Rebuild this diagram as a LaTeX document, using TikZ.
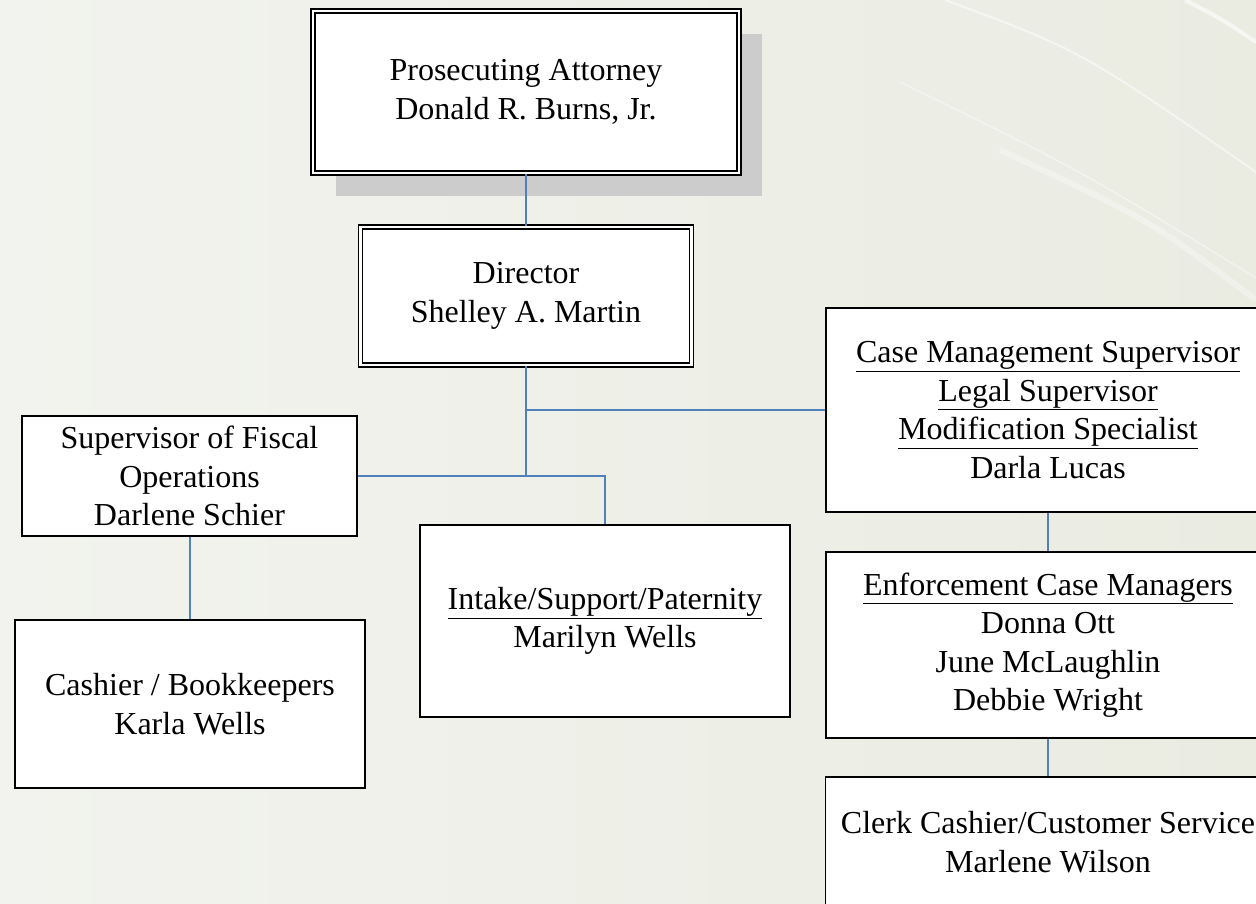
\documentclass[tikz,border=0pt]{standalone}
\usepackage{fontspec}
\setmainfont{Liberation Serif}
\usetikzlibrary{shadows}

\definecolor{linkblue}{HTML}{4F81BD}
\definecolor{bgleft}{HTML}{F2F3EE}
\definecolor{bgright}{HTML}{EAECE2}

\begin{document}
\begin{tikzpicture}[x=1pt, y=-1pt,
    box/.style={draw=black, line width=1.5pt, fill=white, inner sep=0pt,
      align=center, font=\fontsize{32}{38.5}\selectfont},
    headbox/.style={box, double=white, double distance=2.4pt, line width=1.5pt},
    link/.style={draw=linkblue, line width=2pt}]
    \useasboundingbox (0, 0) rectangle (1256, 903);
    \clip (0, 0) rectangle (1256, 903);
    \shade[left color=bgleft, right color=bgright] (0, 0) rectangle (1256, 903);
    \draw[white, opacity=0.5, line width=2pt] (945, 0) .. controls (1080, 50) .. (1256, 172);
    \draw[white, opacity=0.6, line width=4pt] (1185, 0) .. controls (1220, 18) .. (1256, 42);
    \draw[white, opacity=0.4, line width=1.5pt] (900, 82) .. controls (1080, 170) .. (1256, 278);
    \draw[white, opacity=0.3, line width=6pt] (1000, 150) .. controls (1150, 220) .. (1256, 300);

    \node[headbox, minimum width=426, minimum height=162,
      drop shadow={shadow xshift=23pt, shadow yshift=-23pt, fill=black!20, opacity=1}]
      (pa) at (526, 92) {Prosecuting Attorney\\Donald R. Burns, Jr.};
    \node[headbox, minimum width=331, minimum height=138] (dir) at (526, 296)
      {Director\\Shelley A. Martin};
    \node[box, minimum width=335, minimum height=120] (fiscal) at (189.5, 476)
      {Supervisor of Fiscal\\Operations\\Darlene Schier};
    \node[box, minimum width=350, minimum height=168] (cashier) at (190, 704)
      {Cashier / Bookkeepers\\Karla Wells};
    \node[box, minimum width=370, minimum height=192] (intake) at (605, 621)
      {\underline{Intake/Support/Paternity}\\Marilyn Wells};
    \node[box, minimum width=444, minimum height=204] (casemgmt) at (1048, 410)
      {\underline{Case Management Supervisor}\\\underline{Legal Supervisor}\\
       \underline{Modification Specialist}\\Darla Lucas};
    \node[box, minimum width=444, minimum height=186] (enforce) at (1048, 645)
      {\underline{Enforcement Case Managers}\\Donna Ott\\June McLaughlin\\Debbie Wright};
    \node[box, minimum width=445, minimum height=130] (clerk) at (1048, 842)
      {Clerk Cashier/Customer Service\\Marlene Wilson};

    \draw[link] (pa) -- (dir);
    \draw[link] (dir.south) -- (dir.south |- fiscal.east);
    \draw[link] (dir.south |- casemgmt.west) -- (casemgmt.west);
    \draw[link] (fiscal.east) -- (intake.north |- fiscal.east) -- (intake.north);
    \draw[link] (fiscal.south) -- (fiscal.south |- cashier.north);
    \draw[link] (casemgmt) -- (enforce);
    \draw[link] (enforce) -- (clerk);
\end{tikzpicture}
\end{document}
